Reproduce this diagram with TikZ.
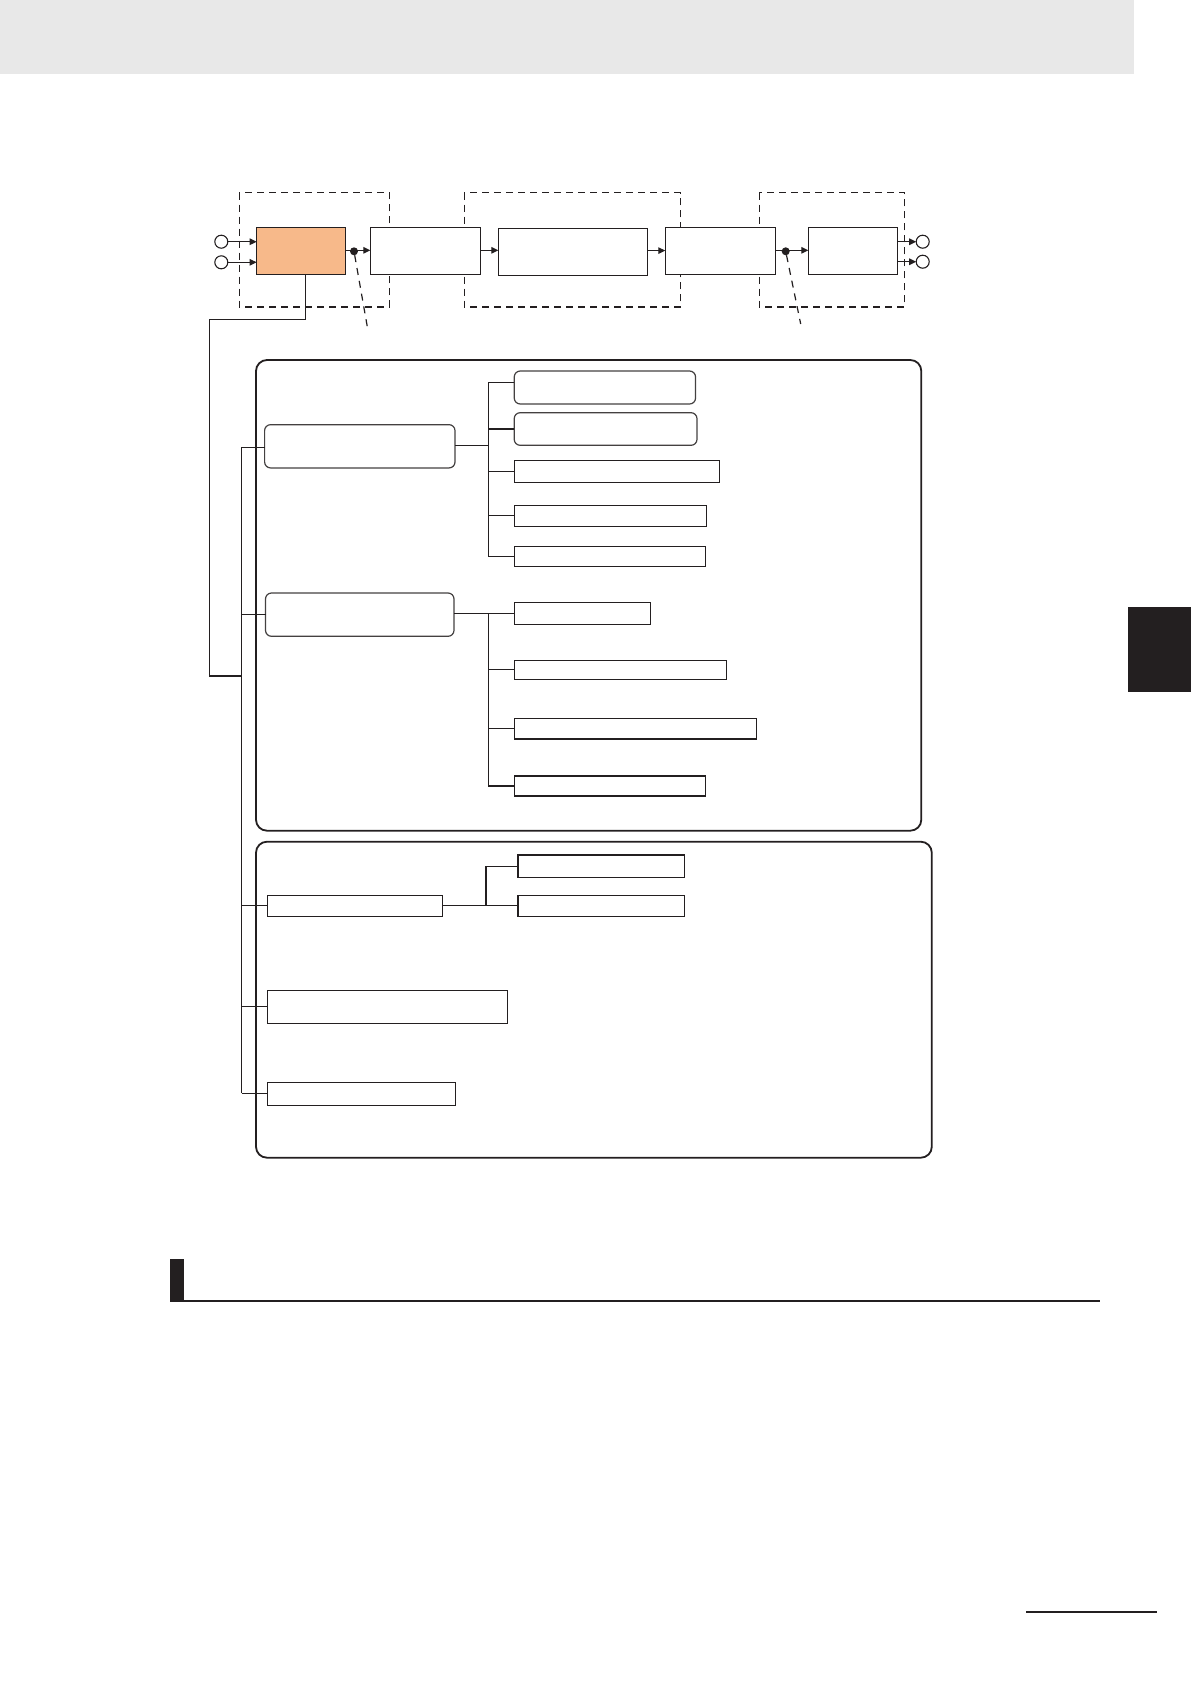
\documentclass[tikz,border=0pt]{standalone}
\usetikzlibrary{arrows.meta,calc}
\definecolor{ink}{HTML}{231F20}
\definecolor{hdr}{HTML}{E8E8E8}
\definecolor{orng}{HTML}{F7B98A}
\begin{document}
\begin{tikzpicture}[x=1pt,y=-1pt,
  every node/.style={inner sep=0pt,outer sep=0pt},
  blk/.style={draw=ink,line width=1.3pt,fill=white,rectangle},
  rblk/.style={draw=ink!85,line width=1.2pt,fill=white,rectangle,rounded corners=6pt},
  frame/.style={draw=ink,line width=1.8pt,rounded corners=11pt},
  dbox/.style={draw=ink,line width=1.3pt,dash pattern=on 7pt off 5pt},
  wire/.style={draw=ink,line width=1.3pt},
  arr/.style={wire,-{Triangle[length=7pt,width=6.5pt]}},
  lead/.style={draw=ink,line width=1.2pt,dash pattern=on 7pt off 6pt},
  term/.style={circle,draw=ink,line width=1.1pt,fill=white,minimum size=13pt},
  dotn/.style={circle,fill=ink,minimum size=8pt}
]
\useasboundingbox (0,0) rectangle (1191,1684);
% page decorations
\fill[hdr] (0,0) rectangle (1134,73.5);
\fill[ink] (1128,607) rectangle (1191,691.5);
\fill[ink] (170,1259) rectangle (183.5,1301.5);
\draw[ink,line width=2pt] (170,1300.7) -- (1100,1300.7);
\draw[ink,line width=2pt] (1026,1612) -- (1157,1612);

% dashed groups
\draw[dbox] (239.3,192.7) rectangle (389.3,307);
\draw[dbox] (464.3,192.7) rectangle (680.3,307);
\draw[dbox] (759.3,192.7) rectangle (904.3,307);

% top chain
\node[blk,fill=orng,minimum width=89pt,minimum height=47pt] (n1) at (301.2,250.8) {};
\node[blk,minimum width=110pt,minimum height=47pt] (n2) at (425.3,250.8) {};
\node[blk,minimum width=149pt,minimum height=47pt] (n3) at (572.8,251.8) {};
\node[blk,minimum width=110pt,minimum height=47pt] (n4) at (720.3,250.8) {};
\node[blk,minimum width=89pt,minimum height=47pt] (n5) at (852.8,250.8) {};

\node[term] (i1) at (221.3,241.7) {};
\node[term] (i2) at (221.3,262.3) {};
\node[term] (o1) at (922.7,241.7) {};
\node[term] (o2) at (922.7,261.7) {};

\draw[arr] (i1.east) -- (n1.west |- i1);
\draw[arr] (i2.east) -- (n1.west |- i2);
\draw[arr] (n5.east |- o1) -- (o1.west);
\draw[arr] (n5.east |- o2) -- (o2.west);

\draw[arr] ([yshift=0.5pt]n1.east) -- ([yshift=0.5pt]n2.west);
\draw[arr] ([yshift=0.5pt]n2.east) -- ([yshift=0.5pt]n2.east -| n3.west);
\draw[arr] ([yshift=1.2pt]n3.east) -- ([yshift=1.2pt]n3.east -| n4.west);
\draw[arr] ([yshift=0.5pt]n4.east) -- ([yshift=0.5pt]n5.west);

\node[dotn] (p1) at (354,251.3) {};
\node[dotn] (p2) at (785.7,251.3) {};
\coordinate (q1) at (367.3,326.7);
\coordinate (q2) at (800.7,324);
\draw[lead] (p1) -- (q1);
\draw[lead] (p2) -- (q2);

% big frames
\draw[frame] (256,360) rectangle (921.3,830.7);
\draw[frame] (256,841.7) rectangle (931.8,1157.7);

% link from first block to tree
\coordinate (jn) at (241.6,676);
\draw[wire] ([xshift=4.5pt]n1.south) |- (209.6,319.3) |- (jn);

% tree trunk
\coordinate (tt) at (241.6,447.3);
\coordinate (tb) at (241.6,1093.3);
\draw[wire] (tt) -- (tb);

% group 1
\node[rblk,minimum width=190.4pt,minimum height=43.3pt] (b1) at (359.8,446.3) {};
\node[rblk,minimum width=181.3pt,minimum height=33pt] (c1) at (604.9,387.5) {};
\node[rblk,minimum width=182.8pt,minimum height=32.6pt] (c2) at (605.6,429) {};
\node[blk,minimum width=205.2pt,minimum height=22pt] (c3) at (616.8,471.3) {};
\node[blk,minimum width=192.3pt,minimum height=21pt] (c4) at (610.35,515.8) {};
\node[blk,minimum width=191.4pt,minimum height=20pt] (c5) at (609.9,556.3) {};
\coordinate (bu1) at (488.4,445.3);
\draw[wire] (tt) -- (b1.west |- tt);
\draw[wire] (b1.east |- bu1) -- (bu1);
\draw[wire] ([yshift=4.8pt]c1.west) -| (bu1) |- (c5.west);
\draw[wire] (c2.west) -- (c2.west -| bu1);
\draw[wire] (c3.west) -- (c3.west -| bu1);
\draw[wire] (c4.west) -- (c4.west -| bu1);

% group 2
\node[rblk,minimum width=188.5pt,minimum height=43.3pt] (b2) at (359.75,614.65) {};
\node[blk,minimum width=136.4pt,minimum height=22pt] (d1) at (582.4,613.3) {};
\node[blk,minimum width=212.4pt,minimum height=19pt] (d2) at (620.4,669.8) {};
\node[blk,minimum width=242.6pt,minimum height=20.7pt] (d3) at (635.5,728.65) {};
\node[blk,minimum width=191.4pt,minimum height=20pt] (d4) at (609.9,786) {};
\coordinate (bu2) at (488.4,613.3);
\draw[wire] (tt |- b2.west) -- (b2.west);
\draw[wire] (b2.east |- d1.west) -- (d1.west);
\draw[wire] (bu2) |- (d4.west);
\draw[wire] (d2.west) -- (d2.west -| bu2);
\draw[wire] (d3.west) -- (d3.west -| bu2);

% group 3
\node[blk,minimum width=175.1pt,minimum height=21pt] (f1) at (354.95,905.8) {};
\node[blk,minimum width=166.5pt,minimum height=22.3pt] (g1) at (601.25,866.15) {};
\node[blk,minimum width=166.5pt,minimum height=21pt] (g2) at (601.25,905.8) {};
\node[blk,minimum width=240.1pt,minimum height=33pt] (f2) at (387.45,1006.8) {};
\node[blk,minimum width=188pt,minimum height=23pt] (f3) at (361.4,1093.8) {};
\coordinate (bu3) at (486,905.8);
\draw[wire] (tt |- f1.west) -- (f1.west);
\draw[wire] (tt |- f2.west) -- (f2.west);
\draw[wire] (tb) -- (f3.west |- tb);
\draw[wire] (f1.east) -- (g2.west);
\draw[wire] (bu3) |- (g1.west);
\end{tikzpicture}
\end{document}
